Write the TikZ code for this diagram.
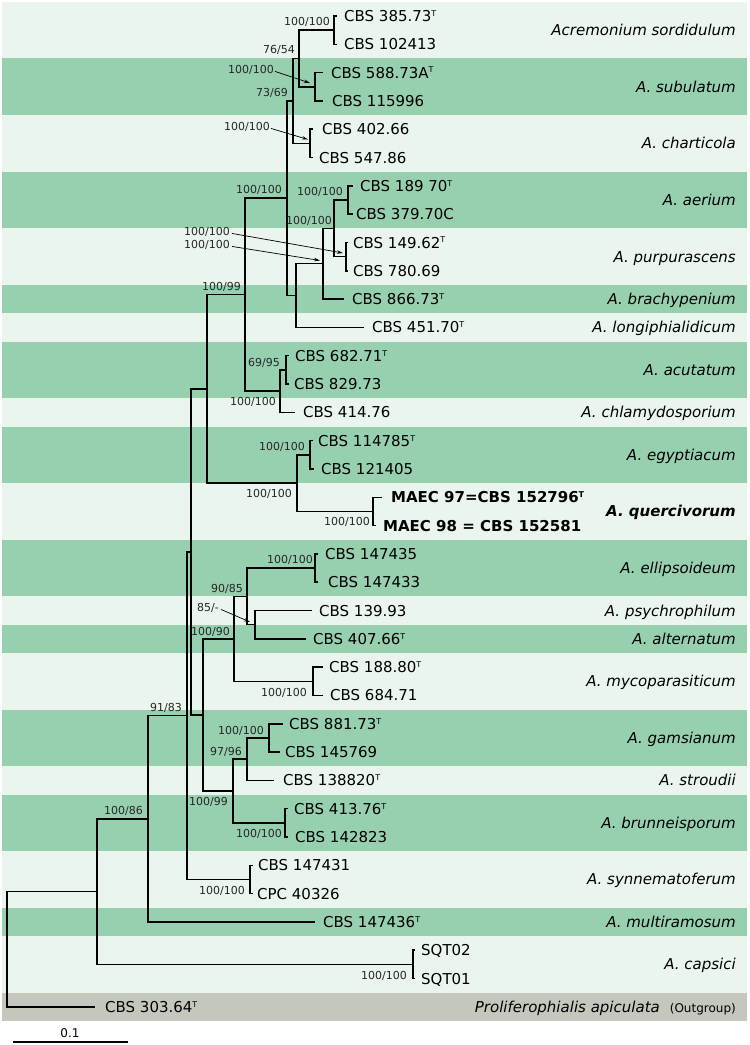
\documentclass[tikz,border=0pt]{standalone}
\usepackage{fontspec}
\setmainfont{DejaVu Sans}
\usetikzlibrary{arrows.meta}
\definecolor{bandD}{RGB}{150,208,174}
\definecolor{bandL}{RGB}{234,245,238}
\definecolor{bandG}{RGB}{196,199,190}
\newcommand\tsup{\raisebox{5.2pt}{\fontsize{8}{8}\selectfont T}}
\newcommand\tsupb{\raisebox{5.2pt}{\fontsize{8}{8}\selectfont\bfseries T}}
\tikzset{
  branch/.style={line width=1.5pt, line join=miter},
  leaflab/.style={anchor=base west, inner sep=0pt, font=\fontsize{15}{18}\selectfont},
  qlab/.style={anchor=base west, inner sep=0pt, font=\fontsize{15}{18}\selectfont\bfseries},
  splab/.style={anchor=base east, inner sep=0pt, font=\fontsize{15}{18}\selectfont\itshape},
  supp/.style={anchor=base east, inner sep=0pt, font=\fontsize{11}{13}\selectfont, text=black!85},
  pointer/.style={line width=0.7pt, -{Stealth[length=6pt,width=3.5pt]}},
  bandbox/.style={draw=none},
}
\begin{document}
\begin{tikzpicture}[x=1pt,y=-1pt]
\useasboundingbox (0,0) rectangle (750,1045);
% ---------- background bands ----------
\fill[bandL] (2,1.85) rectangle (747,992.65);
\fill[bandD] (2,58.45) rectangle (747,115.05);
\fill[bandD] (2,171.75) rectangle (747,228.35);
\fill[bandD] (2,284.95) rectangle (747,313.25);
\fill[bandD] (2,341.55) rectangle (747,398.15);
\fill[bandD] (2,426.55) rectangle (747,483.15);
\fill[bandD] (2,539.75) rectangle (747,596.35);
\fill[bandD] (2,624.65) rectangle (747,652.95);
\fill[bandD] (2,709.65) rectangle (747,766.25);
\fill[bandD] (2,794.55) rectangle (747,851.15);
\fill[bandD] (2,907.75) rectangle (747,936.05);
\fill[bandG] (2,992.65) rectangle (747,1020.95);

% ---------- internal nodes ----------
\coordinate (nA) at (334,30.15);
\coordinate (nB) at (315,86.75);
\coordinate (nAB) at (299,58.45);
\coordinate (nC) at (310,143.4);
\coordinate (nABC) at (293,100.9);
\coordinate (nD) at (348,200.05);
\coordinate (nE) at (346,256.65);
\coordinate (nDE) at (334,228.35);
\coordinate (nDEF) at (323,263.7);
\coordinate (nDEFG) at (296,295.55);
\coordinate (nTop) at (287,198.2);
\coordinate (nAc) at (286,369.85);
\coordinate (nAcC) at (280,391.1);
\coordinate (nBigA) at (245,294.65);
\coordinate (nEg) at (310,454.85);
\coordinate (nQ) at (373,511.45);
\coordinate (nEgQ) at (297,483.15);
\coordinate (nBigB) at (207,388.9);
\coordinate (nEll) at (315,568.05);
\coordinate (nPA) at (255,624.65);
\coordinate (nEllPA) at (247,596.35);
\coordinate (nMy) at (313,681.25);
\coordinate (nAlt) at (234,638.8);
\coordinate (nGam) at (269,737.95);
\coordinate (nGS) at (247,759.2);
\coordinate (nBr) at (285,822.85);
\coordinate (nGSB) at (233,791.0);
\coordinate (nLow) at (203,714.9);
\coordinate (nQQ) at (191,551.9);
\coordinate (nSyn) at (250,879.45);
\coordinate (nP) at (187,715.7);
\coordinate (nMR) at (148,818.8);
\coordinate (nCap) at (413,964.35);
\coordinate (nIn) at (97,891.6);
\coordinate (root) at (7,949.2);

% ---------- leaf tips ----------
\coordinate (l1) at (337,16.0);
\coordinate (l2) at (337,44.3);
\coordinate (l3) at (323,72.6);
\coordinate (l4) at (323,100.9);
\coordinate (l5) at (313,129.2);
\coordinate (l6) at (313,157.6);
\coordinate (l7) at (353,185.9);
\coordinate (l8) at (353,214.2);
\coordinate (l9) at (348,242.5);
\coordinate (l10) at (348,270.8);
\coordinate (l11) at (344,299.1);
\coordinate (l12) at (364,327.4);
\coordinate (l13) at (289,355.7);
\coordinate (l14) at (289,384.0);
\coordinate (l15) at (295,412.3);
\coordinate (l16) at (313,440.7);
\coordinate (l17) at (314,469.0);
\coordinate (l18) at (382,497.3);
\coordinate (l19) at (376,525.6);
\coordinate (l20) at (318,553.9);
\coordinate (l21) at (318,582.2);
\coordinate (l22) at (312,610.5);
\coordinate (l23) at (306,638.8);
\coordinate (l24) at (323,667.1);
\coordinate (l25) at (323,695.4);
\coordinate (l26) at (283,723.8);
\coordinate (l27) at (280,752.1);
\coordinate (l28) at (274,780.4);
\coordinate (l29) at (288,808.7);
\coordinate (l30) at (288,837.0);
\coordinate (l31) at (253,865.3);
\coordinate (l32) at (253,893.6);
\coordinate (l33) at (315,921.9);
\coordinate (l34) at (415,950.2);
\coordinate (l35) at (415,978.5);
\coordinate (l36) at (95,1006.8);

% ---------- branches ----------
\draw[branch] (nA) |- (l1);   \draw[branch] (nA) |- (l2);
\draw[branch] (nB) |- (l3);   \draw[branch] (nB) |- (l4);
\draw[branch] (nAB) |- (nA);  \draw[branch] (nAB) |- (nB);
\draw[branch] (nC) |- (l5);   \draw[branch] (nC) |- (l6);
\draw[branch] (nABC) |- (nAB); \draw[branch] (nABC) |- (nC);
\draw[branch] (nD) |- (l7);   \draw[branch] (nD) |- (l8);
\draw[branch] (nE) |- (l9);   \draw[branch] (nE) |- (l10);
\draw[branch] (nDE) |- (nD);  \draw[branch] (nDE) |- (nE);
\draw[branch] (nDEF) |- (nDE); \draw[branch] (nDEF) |- (l11);
\draw[branch] (nDEFG) |- (nDEF); \draw[branch] (nDEFG) |- (l12);
\draw[branch] (nTop) |- (nABC); \draw[branch] (nTop) |- (nDEFG);
\draw[branch] (nAc) |- (l13); \draw[branch] (nAc) |- (l14);
\draw[branch] (nAcC) |- (nAc); \draw[branch] (nAcC) |- (l15);
\draw[branch] (nBigA) |- (nTop); \draw[branch] (nBigA) |- (nAcC);
\draw[branch] (nEg) |- (l16); \draw[branch] (nEg) |- (l17);
\draw[branch] (nQ) |- (l18);  \draw[branch] (nQ) |- (l19);
\draw[branch] (nEgQ) |- (nEg); \draw[branch] (nEgQ) |- (nQ);
\draw[branch] (nBigB) |- (nBigA); \draw[branch] (nBigB) |- (nEgQ);
\draw[branch] (nEll) |- (l20); \draw[branch] (nEll) |- (l21);
\draw[branch] (nPA) |- (l22); \draw[branch] (nPA) |- (l23);
\draw[branch] (nEllPA) |- (nEll); \draw[branch] (nEllPA) |- (nPA);
\draw[branch] (nMy) |- (l24); \draw[branch] (nMy) |- (l25);
\draw[branch] (nAlt) |- (nEllPA); \draw[branch] (nAlt) |- (nMy);
\draw[branch] (nGam) |- (l26); \draw[branch] (nGam) |- (l27);
\draw[branch] (nGS) |- (nGam); \draw[branch] (nGS) |- (l28);
\draw[branch] (nBr) |- (l29); \draw[branch] (nBr) |- (l30);
\draw[branch] (nGSB) |- (nGS); \draw[branch] (nGSB) |- (nBr);
\draw[branch] (nLow) |- (nAlt); \draw[branch] (nLow) |- (nGSB);
\draw[branch] (nQQ) |- (nBigB); \draw[branch] (nQQ) |- (nLow);
\draw[branch] (nSyn) |- (l31); \draw[branch] (nSyn) |- (l32);
\draw[branch] (nP) |- (nQQ); \draw[branch] (nP) |- (nSyn);
\draw[branch] (nMR) |- (nP); \draw[branch] (nMR) |- (l33);
\draw[branch] (nCap) |- (l34); \draw[branch] (nCap) |- (l35);
\draw[branch] (nIn) |- (nMR); \draw[branch] (nIn) |- (nCap);
\draw[branch] (root) |- (nIn); \draw[branch] (root) |- (l36);

% ---------- leaf labels ----------
\node[leaflab] (t1) at (344,21.5) {CBS 385.73\tsup};
\node[leaflab] (t2) at (344,49.8) {CBS 102413};
\node[leaflab] (t3) at (331,78.1) {CBS 588.73A\tsup};
\node[leaflab] (t4) at (332,106.4) {CBS 115996};
\node[leaflab] (t5) at (322,134.7) {CBS 402.66};
\node[leaflab] (t6) at (319,163.1) {CBS 547.86};
\node[leaflab] (t7) at (360,191.4) {CBS 189 70\tsup};
\node[leaflab] (t8) at (356,219.7) {CBS 379.70C};
\node[leaflab] (t9) at (353,248.0) {CBS 149.62\tsup};
\node[leaflab] (t10) at (353,276.3) {CBS 780.69};
\node[leaflab] (t11) at (352,304.6) {CBS 866.73\tsup};
\node[leaflab] (t12) at (372,332.9) {CBS 451.70\tsup};
\node[leaflab] (t13) at (295,361.2) {CBS 682.71\tsup};
\node[leaflab] (t14) at (294,389.5) {CBS 829.73};
\node[leaflab] (t15) at (303,417.8) {CBS 414.76};
\node[leaflab] (t16) at (318,446.2) {CBS 114785\tsup};
\node[leaflab] (t17) at (321,474.5) {CBS 121405};
\node[qlab] (t18) at (391,502.8) {MAEC 97=CBS 152796\tsupb};
\node[qlab] (t19) at (383,531.1) {MAEC 98 = CBS 152581};
\node[leaflab] (t20) at (325,559.4) {CBS 147435};
\node[leaflab] (t21) at (328,587.7) {CBS 147433};
\node[leaflab] (t22) at (319,616.0) {CBS 139.93};
\node[leaflab] (t23) at (313,644.3) {CBS 407.66\tsup};
\node[leaflab] (t24) at (329,672.6) {CBS 188.80\tsup};
\node[leaflab] (t25) at (330,700.9) {CBS 684.71};
\node[leaflab] (t26) at (289,729.3) {CBS 881.73\tsup};
\node[leaflab] (t27) at (285,757.6) {CBS 145769};
\node[leaflab] (t28) at (283,785.9) {CBS 138820\tsup};
\node[leaflab] (t29) at (294,814.2) {CBS 413.76\tsup};
\node[leaflab] (t30) at (295,842.5) {CBS 142823};
\node[leaflab] (t31) at (258,870.8) {CBS 147431};
\node[leaflab] (t32) at (257,899.1) {CPC 40326};
\node[leaflab] (t33) at (323,927.4) {CBS 147436\tsup};
\node[leaflab] (t34) at (421,955.7) {SQT02};
\node[leaflab] (t35) at (421,984.0) {SQT01};
\node[leaflab] (t36) at (105,1012.3) {CBS 303.64\tsup};

% ---------- support values ----------
\node[supp] (sA) at (330,25) {100/100};
\node[supp] (sAB) at (295,53) {76/54};
\node[supp] (sABC) at (288,96) {73/69};
\node[supp] (sD) at (343,195) {100/100};
\node[supp] (sDE) at (332,224) {100/100};
\node[supp] (sTop) at (282,193) {100/100};
\node[supp] (sBigA) at (241,290) {100/99};
\node[supp] (sAc) at (280,366) {69/95};
\node[supp] (sAcC) at (276,405) {100/100};
\node[supp] (sEg) at (305,450) {100/100};
\node[supp] (sQ) at (370,525) {100/100};
\node[supp] (sEgQ) at (292,497) {100/100};
\node[supp] (sEll) at (313,563) {100/100};
\node[supp] (sEllPA) at (243,592) {90/85};
\node[supp] (sMy) at (307,696) {100/100};
\node[supp] (sAlt) at (230,635) {100/90};
\node[supp] (sGam) at (264,734) {100/100};
\node[supp] (sGS) at (242,755) {97/96};
\node[supp] (sBr) at (282,837) {100/100};
\node[supp] (sGSB) at (228,805) {100/99};
\node[supp] (sSyn) at (245,894) {100/100};
\node[supp] (sP) at (182,711) {91/83};
\node[supp] (sMR) at (143,814) {100/86};
\node[supp] (sCap) at (407,979) {100/100};

% support values with pointers
\node[supp] (sB) at (274,73) {100/100};
\node[supp] (sC) at (270,130) {100/100};
\node[supp] (sE) at (230,235) {100/100};
\node[supp] (sDEF) at (230,248) {100/100};
\node[supp] (sPA) at (219,611) {85/-};
\coordinate (pB) at (310,83);
\coordinate (pC) at (308,139.5);
\coordinate (pE) at (343,253);
\coordinate (pDEF) at (320,260.5);
\coordinate (pPA) at (250,622);
\draw[pointer] ([xshift=1pt,yshift=-2pt]sB.east) -- (pB);
\draw[pointer] ([xshift=1pt,yshift=-2pt]sC.east) -- (pC);
\draw[pointer] ([xshift=2pt,yshift=-2pt]sE.east) -- (pE);
\draw[pointer] ([xshift=2pt,yshift=-2pt]sDEF.east) -- (pDEF);
\draw[pointer] ([xshift=2pt,yshift=-2pt]sPA.east) -- (pPA);

% ---------- species names ----------
\node[splab] (g1) at (736,35.65) {Acremonium sordidulum};
\node[splab] (g2) at (736,92.25) {A. subulatum};
\node[splab] (g3) at (736,148.9) {A. charticola};
\node[splab] (g4) at (736,205.55) {A. aerium};
\node[splab] (g5) at (736,262.15) {A. purpurascens};
\node[splab] (g6) at (736,304.6) {A. brachypenium};
\node[splab] (g7) at (736,332.9) {A. longiphialidicum};
\node[splab] (g8) at (736,375.35) {A. acutatum};
\node[splab] (g9) at (736,417.8) {A. chlamydosporium};
\node[splab] (g10) at (736,460.35) {A. egyptiacum};
\node[splab, font=\fontsize{15}{18}\selectfont\bfseries\itshape] (g11) at (736,516.95) {A. quercivorum};
\node[splab] (g12) at (736,573.55) {A. ellipsoideum};
\node[splab] (g13) at (736,616.0) {A. psychrophilum};
\node[splab] (g14) at (736,644.3) {A. alternatum};
\node[splab] (g15) at (736,686.75) {A. mycoparasiticum};
\node[splab] (g16) at (736,743.45) {A. gamsianum};
\node[splab] (g17) at (736,785.9) {A. stroudii};
\node[splab] (g18) at (736,828.35) {A. brunneisporum};
\node[splab] (g19) at (736,884.95) {A. synnematoferum};
\node[splab] (g20) at (736,927.4) {A. multiramosum};
\node[splab] (g21) at (736,969.85) {A. capsici};
\node[splab] (g22) at (736,1012.3) {Proliferophialis apiculata\hspace{10pt}{\upshape\fontsize{12}{14}\selectfont (Outgroup)}};

% ---------- scale bar ----------
\coordinate (sb1) at (13,1042);
\coordinate (sb2) at (128,1042);
\draw[line width=1.5pt] (sb1) -- (sb2);
\node[inner sep=0pt, font=\fontsize{12}{14}\selectfont] (sbl) at (70,1033) {0.1};
\end{tikzpicture}
\end{document}
